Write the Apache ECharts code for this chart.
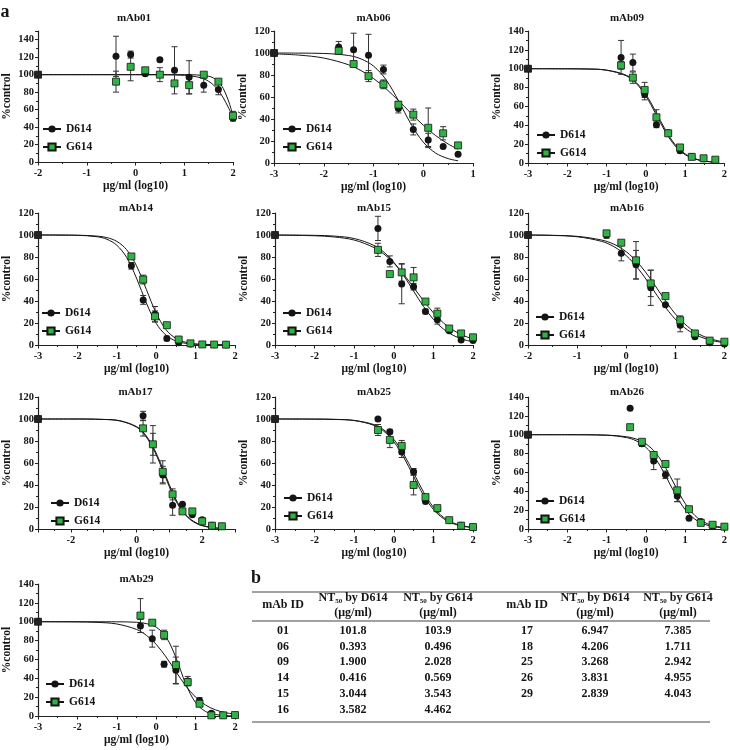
<!DOCTYPE html>
<html><head><meta charset="utf-8">
<script src="https://cdn.jsdelivr.net/npm/echarts/dist/echarts.min.js"></script>
<style>html,body{margin:0;padding:0;background:#fff}#c{width:730px;height:750px}</style>
</head><body><div id="c"></div>
<script>
// ---------- data: [log10 conc, %control, SD] ----------
const mAb01_D614 = [[-2,100,0],[-0.4,121,23],[-0.1,123,4],[0.2,101,2],[0.5,117,2],[0.8,105,27],[1.1,97,19],[1.4,88,8],[1.7,83,6],[2.0,50,3]];
const mAb01_G614 = [[-2,100,0],[-0.4,92,12],[-0.1,109,16],[0.2,105,3],[0.5,100,8],[0.8,90,0],[1.1,88,10],[1.4,100,2],[1.7,92,2],[2.0,53,5]];
const mAb01_D614_fit = [[-2,100],[0,100],[0.5,99.9],[1,99.3],[1.25,97.6],[1.4,95.2],[1.5,92.4],[1.6,88.2],[1.7,82],[1.75,78],[1.8,73.6],[1.9,63],[2,51]];
const mAb01_G614_fit = [[-2,100],[0,100],[1,100],[1.25,99.7],[1.5,98.2],[1.6,96.2],[1.7,92],[1.75,88.7],[1.8,84.2],[1.9,71.2],[2,53.3]];

const mAb06_D614 = [[-3,100,0],[-1.7,105.5,5],[-1.4,103,15],[-1.1,98,19],[-0.8,85,4],[-0.5,49.5,4],[-0.2,30.5,5],[0.1,21,6],[0.4,15,0],[0.7,8,0]];
const mAb06_G614 = [[-3,100,0],[-1.7,102,3],[-1.4,90,2],[-1.1,79,5],[-0.8,71.5,4],[-0.5,53,3],[-0.2,44,5],[0.1,32,18],[0.4,27,6],[0.7,16,2]];
const mAb06_D614_fit = [[-3,100],[-2.5,99.9],[-2,99.6],[-1.5,97.7],[-1.25,94.6],[-1,88.1],[-0.75,75.8],[-0.5,56.8],[-0.25,35.7],[0,19],[0.25,9],[0.5,4],[0.7,2]];
const mAb06_G614_fit = [[-3,99.2],[-2.5,98.1],[-2,95.4],[-1.5,89.3],[-1.25,84],[-1,76.8],[-0.75,67.6],[-0.5,56.8],[-0.25,45.4],[0,34.4],[0.25,24.9],[0.5,17.3],[0.7,12.6]];

const mAb09_D614 = [[-3,100,0],[-0.63,112,18],[-0.33,106.5,9],[-0.03,73,6],[0.27,40.5,3],[0.57,32,0],[0.87,13,2],[1.17,7,0],[1.47,4.5,0],[1.77,2.8,0]];
const mAb09_G614 = [[-3,100,0],[-0.63,103.5,4],[-0.33,90.5,6],[-0.03,77.5,8],[0.27,48.5,8],[0.57,31.5,2],[0.87,16.5,2],[1.17,6.5,0],[1.47,5,0],[1.77,3.5,0]];
const mAb09_D614_fit = [[-3,100],[-2,99.9],[-1.5,99.7],[-1,98.4],[-0.5,92.5],[-0.25,84.6],[0,71.1],[0.25,52.3],[0.5,32.9],[0.75,18],[1,8.9],[1.25,4.2],[1.5,1.9],[1.77,0.8]];
const mAb09_G614_fit = [[-3,100],[-2,99.9],[-1.5,99.7],[-1,98.5],[-0.5,93.1],[-0.25,85.6],[0,72.9],[0.25,54.6],[0.5,35],[0.75,19.3],[1,9.7],[1.25,4.5],[1.5,2.1],[1.77,0.8]];

const mAb14_D614 = [[-3,100,0],[-0.63,72,3],[-0.33,41,4],[-0.03,28,7],[0.27,6,2],[0.57,2,0],[0.87,1,0],[1.17,0.5,0],[1.47,0.3,0],[1.77,0.2,0]];
const mAb14_G614 = [[-3,100,0],[-0.63,80.5,2],[-0.33,59.5,4],[-0.03,26,5],[0.27,18,0],[0.57,5,0],[0.87,1.5,0],[1.17,0.5,0],[1.47,0.4,0],[1.77,0.3,0]];
const mAb14_D614_fit = [[-3,100],[-2,99.7],[-1.5,98.4],[-1.25,96.1],[-1,90.7],[-0.75,79.6],[-0.5,60.8],[-0.25,38.2],[0,19.7],[0.25,8.9],[0.5,3.7],[0.75,1.5],[1,0.6],[1.77,0]];
const mAb14_G614_fit = [[-3,100],[-2,99.8],[-1.5,99],[-1.25,97.6],[-1,94.2],[-0.75,86.6],[-0.5,72],[-0.25,50.5],[0,28.9],[0.25,13.9],[0.5,6],[0.75,2.5],[1,1],[1.77,0.1]];

const mAb15_D614 = [[-3,100,0],[-0.4,106,11],[-0.1,76,5],[0.2,55.5,18],[0.5,53,3],[0.8,30.5,2],[1.1,23,4],[1.4,13,0],[1.7,4.5,0],[2.0,4,0]];
const mAb15_G614 = [[-3,100,0],[-0.4,86.5,6],[-0.1,64.5,0],[0.2,66,8],[0.5,61.5,9],[0.8,39.5,0],[1.1,28.5,5],[1.4,15,0],[1.7,10.5,0],[2.0,7,0]];
const mAb15_D614_fit = [[-3,100],[-2,99.7],[-1.5,99],[-1,96.8],[-0.5,90.5],[-0.25,84.4],[0,75.2],[0.25,63.1],[0.5,49],[0.75,35.1],[1,23.3],[1.25,14.6],[1.5,8.8],[1.75,5.1],[2,2.9]];
const mAb15_G614_fit = [[-3,99.9],[-2,99.3],[-1.5,98.2],[-1,95.4],[-0.5,88.6],[-0.25,82.7],[0,74.6],[0.25,64.2],[0.5,52.4],[0.75,40.3],[1,29.3],[1.25,20.2],[1.5,13.5],[1.75,8.7],[2,5.5]];

const mAb16_D614 = [[-2,100,0],[-0.4,100,3],[-0.1,83.5,7],[0.2,73,13],[0.5,52,16],[0.8,36.5,0],[1.1,18,6],[1.4,7.5,0],[1.7,2,0],[2.0,1,0]];
const mAb16_G614 = [[-2,100,0],[-0.4,101.5,2],[-0.1,93,2],[0.2,77,17],[0.5,56,12],[0.8,44.5,2],[1.1,22.5,4],[1.4,10.5,0],[1.7,4,0],[2.0,3,0]];
const mAb16_D614_fit = [[-2,99.9],[-1.5,99.6],[-1,98.4],[-0.5,94.2],[-0.25,89.4],[0,81.3],[0.25,69.1],[0.5,53.6],[0.75,37.3],[1,23.5],[1.25,13.7],[1.5,7.6],[1.75,4],[2,2.1]];
const mAb16_G614_fit = [[-2,100],[-1.5,99.7],[-1,98.8],[-0.5,95.4],[-0.25,91.6],[0,84.8],[0.25,74.2],[0.5,59.8],[0.75,43.4],[1,28.3],[1.25,16.9],[1.5,9.5],[1.75,5.2],[2,2.7]];

const mAb17_D614 = [[-3,100,0],[0.2,103,4],[0.5,77,17],[0.8,49,8],[1.1,21.5,9],[1.4,22.5,0],[1.7,13,0],[2.0,8.5,0],[2.3,3.5,0],[2.6,2.5,0]];
const mAb17_G614 = [[-3,100,0],[0.2,91.5,7],[0.5,77,10],[0.8,52,10],[1.1,31.5,5],[1.4,16,0],[1.7,16,0],[2.0,7,0],[2.3,3,0],[2.6,2.5,0]];
const mAb17_D614_fit = [[-3,100],[-2,100],[-1,99.6],[-0.5,98.2],[0,92.6],[0.25,85.5],[0.5,73.6],[0.75,56.9],[1,38.4],[1.25,22.8],[1.5,12.3],[1.75,6.2],[2,3],[2.3,1.2],[2.6,0.5]];
const mAb17_G614_fit = [[-3,100],[-2,100],[-1,99.6],[-0.5,98.4],[0,93.1],[0.25,86.4],[0.5,75],[0.75,58.7],[1,40.2],[1.25,24.2],[1.5,13.1],[1.75,6.8],[2,3.3],[2.3,1.4],[2.6,0.55]];

const mAb25_D614 = [[-3,100,0],[-0.4,100,0],[-0.1,88.5,2],[0.2,70,5],[0.5,52,3],[0.8,25,0],[1.1,18,0],[1.4,8,0],[1.7,3.3,0],[2.0,1.5,0]];
const mAb25_G614 = [[-3,100,0],[-0.4,90,5],[-0.1,81,7],[0.2,75.5,5],[0.5,40,9],[0.8,29,2],[1.1,19,0],[1.4,8,0],[1.7,3,0],[2.0,1.8,0]];
const mAb25_D614_fit = [[-3,100],[-2,99.9],[-1.5,99.7],[-1,98.7],[-0.5,94.9],[-0.25,90],[0,81.5],[0.25,68.1],[0.5,51],[0.75,33.7],[1,19.8],[1.25,10.7],[1.5,5.5],[1.75,2.8],[2,1.4]];
const mAb25_G614_fit = [[-3,100],[-2,99.9],[-1.5,99.6],[-1,98.6],[-0.5,94.2],[-0.25,88.8],[0,79.4],[0.25,65.3],[0.5,47.8],[0.75,30.8],[1,17.8],[1.25,9.6],[1.5,4.9],[1.75,2.5],[2,1.2]];

const mAb26_D614 = [[-3,100,0],[-0.4,128,0],[-0.1,90.5,3],[0.2,72,9],[0.5,57.5,4],[0.8,35,6],[1.1,11.5,0],[1.4,8,0],[1.7,2.8,0],[2.0,2,0]];
const mAb26_G614 = [[-3,100,0],[-0.4,108,0],[-0.1,92.5,0],[0.2,78.5,0],[0.5,69,3],[0.8,41,12],[1.1,21,0],[1.4,6.5,0],[1.7,4.5,0],[2.0,2.5,0]];
const mAb26_D614_fit = [[-3,100],[-2,100],[-1,99.4],[-0.5,97],[-0.25,93.6],[0,86.7],[0.25,74.5],[0.5,56.7],[0.75,36.9],[1,20.7],[1.25,10.4],[1.5,4.9],[1.75,2.3],[2,1]];
const mAb26_G614_fit = [[-3,100],[-2,100],[-1,99.6],[-0.5,97.9],[-0.25,95.5],[0,90.4],[0.25,80.8],[0.5,65.2],[0.75,45.6],[1,27.2],[1.25,14.3],[1.5,6.9],[1.75,3.3],[2,1.5]];

const mAb29_D614 = [[-3,100,0],[-0.4,95.5,7],[-0.1,82,9],[0.2,55,3],[0.5,48.5,14],[0.8,37,5],[1.1,16.5,3],[1.4,3,0],[1.7,0.7,0],[2.0,0.7,0]];
const mAb29_G614 = [[-3,100,0],[-0.4,106.5,18],[-0.1,99,2],[0.2,86,5],[0.5,54,20],[0.8,36,0],[1.1,13,0],[1.4,0.7,0],[1.7,0.7,0],[2.0,1,0]];
const mAb29_D614_fit = [[-3,100],[-2,99.8],[-1.5,99.3],[-1,97.6],[-0.5,91.8],[-0.25,85.6],[0,75.9],[0.25,62.6],[0.5,47],[0.75,32],[1,20],[1.25,11.7],[1.5,6.6],[1.75,3.6],[2,2]];
const mAb29_G614_fit = [[-3,100],[-1,99.9],[-0.5,99.4],[-0.25,98],[0,94.2],[0.25,83.8],[0.5,62.1],[0.75,34.1],[1,14.1],[1.25,4.9],[1.5,1.6],[1.75,0.5],[2,0.2]];

// ---------- table b ----------
const tableIdsLeft = ['01','06','09','14','15','16'];
const tableD614Left = ['101.8','0.393','1.900','0.416','3.044','3.582'];
const tableG614Left = ['103.9','0.496','2.028','0.569','3.543','4.462'];
const tableIdsRight = ['17','18','25','26','29'];
const tableD614Right = ['6.947','4.206','3.268','3.831','2.839'];
const tableG614Right = ['7.385','1.711','2.942','4.955','4.043'];

// ---------- layout ----------
const FONT = '"Liberation Serif","Times New Roman",serif';
const INK = '#151515';
const GREEN = '#2fb344';
const panels = [
 {name:'mAb01', D:mAb01_D614, G:mAb01_G614, Df:mAb01_D614_fit, Gf:mAb01_G614_fit, x:[-2,2], yMax:150, box:[35,31,198,131], leg:[42,123]},
 {name:'mAb06', D:mAb06_D614, G:mAb06_G614, Df:mAb06_D614_fit, Gf:mAb06_G614_fit, x:[-3,1], yMax:120, box:[274,31,199,132], leg:[282,123]},
 {name:'mAb09', D:mAb09_D614, G:mAb09_G614, Df:mAb09_D614_fit, Gf:mAb09_G614_fit, x:[-3,2], yMax:140, box:[528,31,198,132], leg:[536,129]},
 {name:'mAb14', D:mAb14_D614, G:mAb14_G614, Df:mAb14_D614_fit, Gf:mAb14_G614_fit, x:[-3,2], yMax:120, box:[37,213,198,132], leg:[41,307]},
 {name:'mAb15', D:mAb15_D614, G:mAb15_G614, Df:mAb15_D614_fit, Gf:mAb15_G614_fit, x:[-3,2], yMax:120, box:[275,213,198,132], leg:[282,307]},
 {name:'mAb16', D:mAb16_D614, G:mAb16_G614, Df:mAb16_D614_fit, Gf:mAb16_G614_fit, x:[-2,2], yMax:120, box:[528,213,198,132], leg:[535,311]},
 {name:'mAb17', D:mAb17_D614, G:mAb17_G614, Df:mAb17_D614_fit, Gf:mAb17_G614_fit, x:[-3,3], yMax:120, box:[36,397,199,132], leg:[50,497], even:true},
 {name:'mAb25', D:mAb25_D614, G:mAb25_G614, Df:mAb25_D614_fit, Gf:mAb25_G614_fit, x:[-3,2], yMax:120, box:[275,397,198,132], leg:[283,492]},
 {name:'mAb26', D:mAb26_D614, G:mAb26_G614, Df:mAb26_D614_fit, Gf:mAb26_G614_fit, x:[-3,2], yMax:140, box:[528,397,198,132], leg:[535,495]},
 {name:'mAb29', D:mAb29_D614, G:mAb29_G614, Df:mAb29_D614_fit, Gf:mAb29_G614_fit, x:[-3,2], yMax:140, box:[38,584,197,132], leg:[45,678]}
];

function renderErr(params, api) {
  const x = api.value(0), lo = api.value(1), hi = api.value(2);
  const a = api.coord([x, hi]), b = api.coord([x, lo]);
  const w = 3;
  const st = {stroke: '#333', lineWidth: 1};
  return {type: 'group', children: [
    {type: 'line', shape: {x1: a[0], y1: a[1], x2: b[0], y2: b[1]}, style: st},
    {type: 'line', shape: {x1: a[0]-w, y1: a[1], x2: a[0]+w, y2: a[1]}, style: st},
    {type: 'line', shape: {x1: b[0]-w, y1: b[1], x2: b[0]+w, y2: b[1]}, style: st}
  ]};
}

const grid = [], xAxis = [], yAxis = [], series = [], legend = [], graphic = [];
const lblStyle = {fontFamily: FONT, fontWeight: 'bold', fontSize: 10.5, color: INK};
const nameStyle = {fontFamily: FONT, fontWeight: 'bold', fontSize: 11.5, color: INK};
const axLine = {show: true, onZero: false, lineStyle: {color: '#222', width: 1.2}};

panels.forEach((p, i) => {
  const [l, t, w, h] = p.box;
  grid.push({left: l, top: t, width: w, height: h});
  xAxis.push({
    type: 'value', gridIndex: i, min: p.x[0], max: p.x[1], interval: 1,
    axisLine: axLine,
    axisTick: {show: true, length: 3.5, lineStyle: {color: '#222', width: 1}},
    minorTick: {show: true, splitNumber: 2, length: 2, lineStyle: {color: '#222', width: 1}},
    splitLine: {show: false},
    axisLabel: Object.assign({margin: 6, formatter: p.even ? (v => (Math.round(v) % 2 === 0 ? String(v) : '')) : (v => String(v))}, lblStyle),
    name: 'μg/ml (log10)', nameLocation: 'middle', nameGap: 18, nameTextStyle: nameStyle
  });
  yAxis.push({
    type: 'value', gridIndex: i, min: 0, max: p.yMax, interval: 20,
    axisLine: axLine,
    axisTick: {show: true, length: 3, lineStyle: {color: '#222', width: 1}},
    minorTick: {show: true, splitNumber: 2, length: 2, lineStyle: {color: '#222', width: 1}},
    splitLine: {show: false},
    axisLabel: Object.assign({margin: 4, formatter: v => (v % 20 === 0 ? String(v) : '')}, lblStyle),
    name: '%control', nameLocation: 'middle', nameGap: 25, nameTextStyle: nameStyle
  });
  series.push({type: 'line', name: 'D614', xAxisIndex: i, yAxisIndex: i, data: p.Df, smooth: 0.35,
    showSymbol: false, symbol: 'circle', itemStyle: {color: INK, opacity: 1}, lineStyle: {color: INK, width: 1}, z: 2, silent: true});
  series.push({type: 'line', name: 'G614', xAxisIndex: i, yAxisIndex: i, data: p.Gf, smooth: 0.35,
    showSymbol: false, symbol: 'rect', itemStyle: {color: GREEN, borderColor: INK, borderWidth: 0.8, opacity: 1}, lineStyle: {color: INK, width: 1}, z: 2, silent: true});
  [p.D, p.G].forEach(arr => {
    series.push({type: 'custom', xAxisIndex: i, yAxisIndex: i, renderItem: renderErr, silent: true, z: 3,
      data: arr.filter(d => d[2] > 0).map(d => [d[0], d[1] - d[2], d[1] + d[2]])});
  });
  series.push({type: 'scatter', name: 'D614 data', xAxisIndex: i, yAxisIndex: i, symbol: 'circle', symbolSize: 7,
    itemStyle: {color: INK, opacity: 1}, z: 4, silent: true, data: p.D.map(d => [d[0], d[1]])});
  series.push({type: 'scatter', name: 'G614 data', xAxisIndex: i, yAxisIndex: i, symbol: 'rect', symbolSize: 7,
    itemStyle: {color: GREEN, borderColor: INK, borderWidth: 0.8, opacity: 1}, z: 5, silent: true,
    data: p.G.map((d, j) => j === 0 ? {value: [d[0], d[1]], itemStyle: {color: '#222'}} : [d[0], d[1]])});
  legend.push({left: p.leg[0], top: p.leg[1], orient: 'vertical', itemWidth: 18, itemHeight: 9, itemGap: 6,
    selectedMode: false, data: ['D614', 'G614'], padding: 0,
    textStyle: {fontFamily: FONT, fontWeight: 'bold', fontSize: 11.5, color: INK}});
  graphic.push({type: 'text', x: l + w / 2, y: t - 13, silent: true,
    style: {text: p.name, font: 'bold 11px ' + FONT, fill: INK, textAlign: 'center', align: 'center', textVerticalAlign: 'middle', verticalAlign: 'middle'}});
});

// titles for rows 2-4 sit close to the top of the axis
graphic.forEach((g, i) => { if (i >= 3) g.y = panels[i].box[1] - 5; });

function txt(x, y, s, size, extra) {
  return Object.assign({type: 'text', x: x, y: y, silent: true,
    style: {text: s, font: 'bold ' + (size || 12) + 'px ' + FONT, fill: INK, textAlign: 'center', align: 'center', textVerticalAlign: 'middle', verticalAlign: 'middle'}}, extra || {});
}
graphic.push(txt(5, 12, 'a', 18));
graphic.push(txt(256, 578, 'b', 18));

// table lines
const tblLine = (y) => ({type: 'line', silent: true, shape: {x1: 252, y1: y, x2: 710, y2: y}, style: {stroke: '#444', lineWidth: 1}});
graphic.push(tblLine(592), tblLine(621), tblLine(722));

function ntHeader(x, variant) {
  return {type: 'text', x: x, y: 598, silent: true, style: {
    text: 'NT{s|50} by ' + variant, font: 'bold 12px ' + FONT, fill: INK, textAlign: 'center', align: 'center', textVerticalAlign: 'middle', verticalAlign: 'middle',
    rich: {s: {fontFamily: FONT, fontWeight: 'bold', fontSize: 7, fill: INK, padding: [6, 0, 0, 0]}}}};
}
[[283, 353, 438], [527, 595, 678]].forEach(cols => {
  graphic.push(txt(cols[0], 605, 'mAb ID', 12));
  graphic.push(ntHeader(cols[1], 'D614'));
  graphic.push(ntHeader(cols[2], 'G614'));
  graphic.push(txt(cols[1], 613, '(μg/ml)', 12));
  graphic.push(txt(cols[2], 613, '(μg/ml)', 12));
});
const rowY = [631, 646.5, 662, 678, 694, 710];
tableIdsLeft.forEach((id, k) => {
  graphic.push(txt(283, rowY[k], id), txt(353, rowY[k], tableD614Left[k]), txt(438, rowY[k], tableG614Left[k]));
});
tableIdsRight.forEach((id, k) => {
  graphic.push(txt(527, rowY[k], id), txt(595, rowY[k], tableD614Right[k]), txt(678, rowY[k], tableG614Right[k]));
});

const chart = echarts.init(document.getElementById('c'), null, {renderer: 'canvas'});
chart.setOption({
  backgroundColor: '#fff', animation: false,
  grid, xAxis, yAxis, series, legend, graphic, tooltip: {show: false}
});
</script></body></html>
